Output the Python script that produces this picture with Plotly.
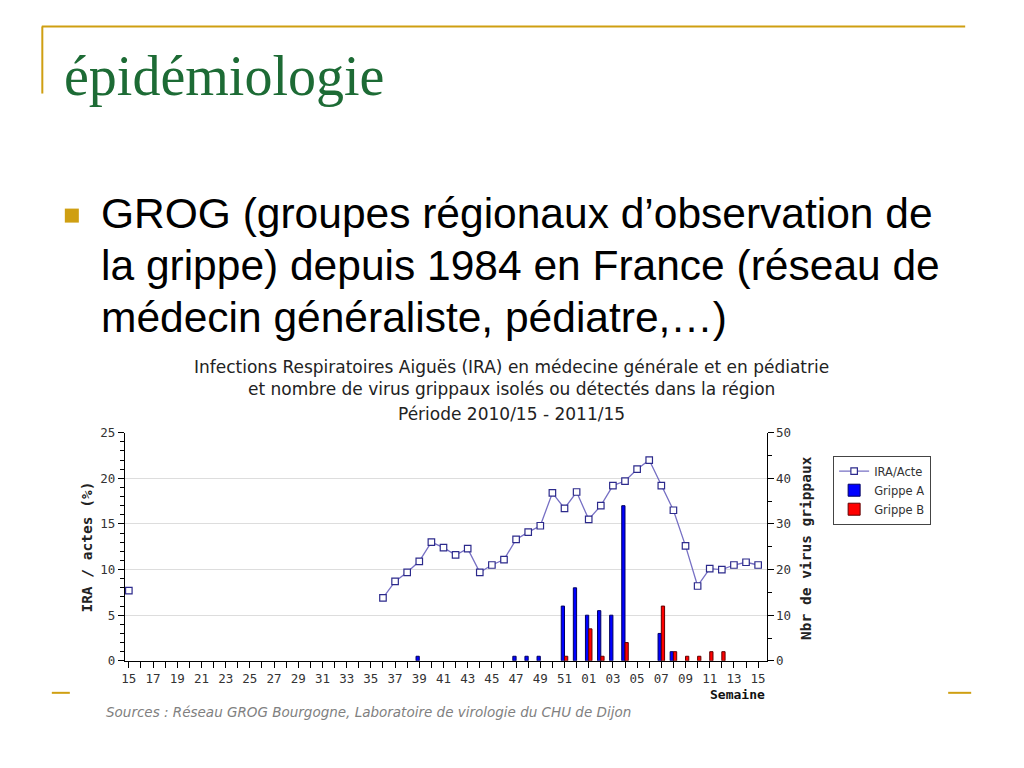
import plotly.graph_objects as go

# ---------------- data ----------------
weeks = ["15", "16", "17", "18", "19", "20", "21", "22", "23", "24", "25", "26",
         "27", "28", "29", "30", "31", "32", "33", "34", "35", "36", "37", "38",
         "39", "40", "41", "42", "43", "44", "45", "46", "47", "48", "49", "50",
         "51", "52", "01", "02", "03", "04", "05", "06", "07", "08", "09", "10",
         "11", "12", "13", "14", "15"]

ira_acte = [7.7,
            None, None, None, None, None, None, None, None, None, None,
            None, None, None, None, None, None, None, None, None, None,
            6.9, 8.7, 9.7, 10.9, 13.0, 12.4, 11.6, 12.3, 9.7, 10.5, 11.1,
            13.3, 14.1, 14.8, 18.4, 16.7, 18.5,
            15.5, 17.0, 19.2, 19.7, 21.0, 22.0, 19.2, 16.5, 12.6, 8.2,
            10.1, 10.0, 10.5, 10.8, 10.5]

grippe_a = [0, 0, 0, 0, 0, 0, 0, 0, 0, 0, 0, 0, 0, 0, 0, 0, 0, 0, 0, 0, 0,
            0, 0, 0, 1, 0, 0, 0, 0, 0, 0, 0, 1, 1, 1, 0, 12, 16,
            10, 11, 10, 34, 0, 0, 6, 2, 0, 0, 0, 0, 0, 0, 0]

grippe_b = [0, 0, 0, 0, 0, 0, 0, 0, 0, 0, 0, 0, 0, 0, 0, 0, 0, 0, 0, 0, 0,
            0, 0, 0, 0, 0, 0, 0, 0, 0, 0, 0, 0, 0, 0, 0, 1, 0,
            7, 1, 0, 4, 0, 0, 12, 2, 1, 1, 2, 2, 0, 0, 0]

tick_labels = [w if i % 2 == 0 else "" for i, w in enumerate(weeks)]
xpos = list(range(len(weeks)))

# hide zero-height bars
ga = [v if v else None for v in grippe_a]
gb = [v if v else None for v in grippe_b]

W, H = 1024, 768
# layout helpers: convert target picture pixels to paper fractions
def px(x):
    return ((x - 4.2) / 0.9957) / W
def py(y):
    return 1 - ((y - 7.5) / 0.98) / H

GOLD = "#cf9f12"
MONO = "DejaVu Sans Mono"
SANS = "DejaVu Sans"

fig = go.Figure()

fig.add_trace(go.Scatter(
    x=xpos, y=ira_acte, name="IRA/Acte", mode="lines+markers",
    line=dict(color="#7770c4", width=1.3),
    marker=dict(symbol="square", size=6.5, color="white",
                line=dict(color="#2c2a8c", width=1.2)),
    connectgaps=False, yaxis="y"))

fig.add_trace(go.Bar(
    x=xpos, y=ga, name="Grippe A", yaxis="y2",
    marker=dict(color="#0000ff", line=dict(color="#000060", width=1))))

fig.add_trace(go.Bar(
    x=xpos, y=gb, name="Grippe B", yaxis="y2",
    marker=dict(color="#ff0000", line=dict(color="#600000", width=1))))

tickfont = dict(family=MONO, size=12.5, color="#333333")

fig.update_layout(
    width=W, height=H, autosize=False,
    margin=dict(l=0, r=0, t=0, b=0),
    paper_bgcolor="white", plot_bgcolor="white",
    barmode="group", bargap=0.46, bargroupgap=0,
    showlegend=True,
    legend=dict(x=px(833), y=py(455), xanchor="left", yanchor="top",
                bgcolor="white", bordercolor="#444444", borderwidth=1,
                font=dict(family=SANS, size=11.5, color="#333333"),
                tracegroupgap=0, itemwidth=30),
    xaxis=dict(domain=[px(125), px(766.5)], range=[-0.33, 52.7],
               tickmode="array", tickvals=xpos, ticktext=tick_labels,
               ticks="outside", ticklen=6, tickcolor="black", tickwidth=1,
               showline=True, linecolor="black", linewidth=1,
               showgrid=False, zeroline=False, tickangle=0,
               tickfont=tickfont),
    yaxis=dict(domain=[py(660), py(432)], range=[0, 25], dtick=5,
               ticks="outside", ticklen=6, tickcolor="black",
               showline=True, linecolor="black", linewidth=1,
               showgrid=True, gridcolor="#dddddd", zeroline=False,
               minor=dict(dtick=1, ticks="outside", ticklen=4,
                          tickcolor="black", showgrid=False),
               tickfont=tickfont),
    yaxis2=dict(overlaying="y", side="right", anchor="x", range=[0, 50],
                dtick=10, ticks="outside", ticklen=6, tickcolor="black",
                showline=True, linecolor="black", linewidth=1,
                showgrid=False, zeroline=False,
                minor=dict(dtick=5, ticks="outside", ticklen=4,
                           tickcolor="black"),
                tickfont=tickfont),
)

ann = []
TFONT = dict(family=SANS, size=17, color="#222222")
ann.append(dict(text="Infections Respiratoires Aiguës (IRA) en médecine générale et en pédiatrie",
                x=px(511), y=py(366), font=TFONT))
ann.append(dict(text="et nombre de virus grippaux isolés ou détectés dans la région",
                x=px(511), y=py(388), font=TFONT))
ann.append(dict(text="Période 2010/15 - 2011/15",
                x=px(511), y=py(413), font=TFONT))
# axis titles
ann.append(dict(text="<b>IRA / actes (%)</b>", x=px(87), y=py(546), textangle=-90,
                font=dict(family=MONO, size=14.5, color="#222222")))
ann.append(dict(text="<b>Nbr de virus grippaux</b>", x=px(806), y=py(547), textangle=-90,
                font=dict(family=MONO, size=14.5, color="#222222")))
ann.append(dict(text="<b>Semaine</b>", x=px(767), y=py(694), xanchor="right",
                font=dict(family=MONO, size=13, color="#111111")))
# sources
ann.append(dict(text="<i>Sources : Réseau GROG Bourgogne, Laboratoire de virologie du CHU de Dijon</i>",
                x=px(104), y=py(711), xanchor="left",
                font=dict(family=SANS, size=13.5, color="#808080")))
# slide title
ann.append(dict(text="épidémiologie", x=px(62), y=py(75), xanchor="left",
                font=dict(family="Liberation Serif", size=56, color="#1d6b35")))
# bullet text
bullet_lines = ["GROG (groupes régionaux d’observation de",
                "la grippe) depuis 1984 en France (réseau de",
                "médecin généraliste, pédiatre,…)"]
for i, t in enumerate(bullet_lines):
    ann.append(dict(text=t, x=px(99), y=py(213 + 52 * i), xanchor="left",
                    font=dict(family="Liberation Sans", size=42.5, color="black")))

for a in ann:
    a.setdefault("xanchor", "center")
    a.update(xref="paper", yref="paper", yanchor="middle", showarrow=False)
fig.update_layout(annotations=ann)

shapes = [
    dict(type="line", x0=px(42), x1=px(965), y0=py(26), y1=py(26),
         line=dict(color=GOLD, width=2)),
    dict(type="line", x0=px(42.5), x1=px(42.5), y0=py(26), y1=py(93),
         line=dict(color=GOLD, width=2)),
    dict(type="rect", x0=px(65), x1=px(79), y0=py(222), y1=py(208),
         fillcolor=GOLD, line=dict(width=0)),
    dict(type="line", x0=px(52), x1=px(70), y0=py(692), y1=py(692),
         line=dict(color=GOLD, width=2)),
    dict(type="line", x0=px(948), x1=px(971), y0=py(692), y1=py(692),
         line=dict(color=GOLD, width=2)),
]
for s in shapes:
    s.update(xref="paper", yref="paper")
fig.update_layout(shapes=shapes)

post = (
    "document.documentElement.style.margin='0';"
    "document.documentElement.style.padding='0';"
    "document.documentElement.style.overflow='hidden';"
    "document.body.style.margin='0';"
    "document.body.style.padding='0';"
    "document.body.style.overflow='hidden';"
    "var gd=document.getElementById('{plot_id}');"
    "var p=gd.parentElement;"
    "p.style.position='absolute';p.style.left='0px';p.style.top='0px';"
    "p.style.margin='0';"
)
fig.write_html("out.html", config={"displayModeBar": False}, post_script=post)
